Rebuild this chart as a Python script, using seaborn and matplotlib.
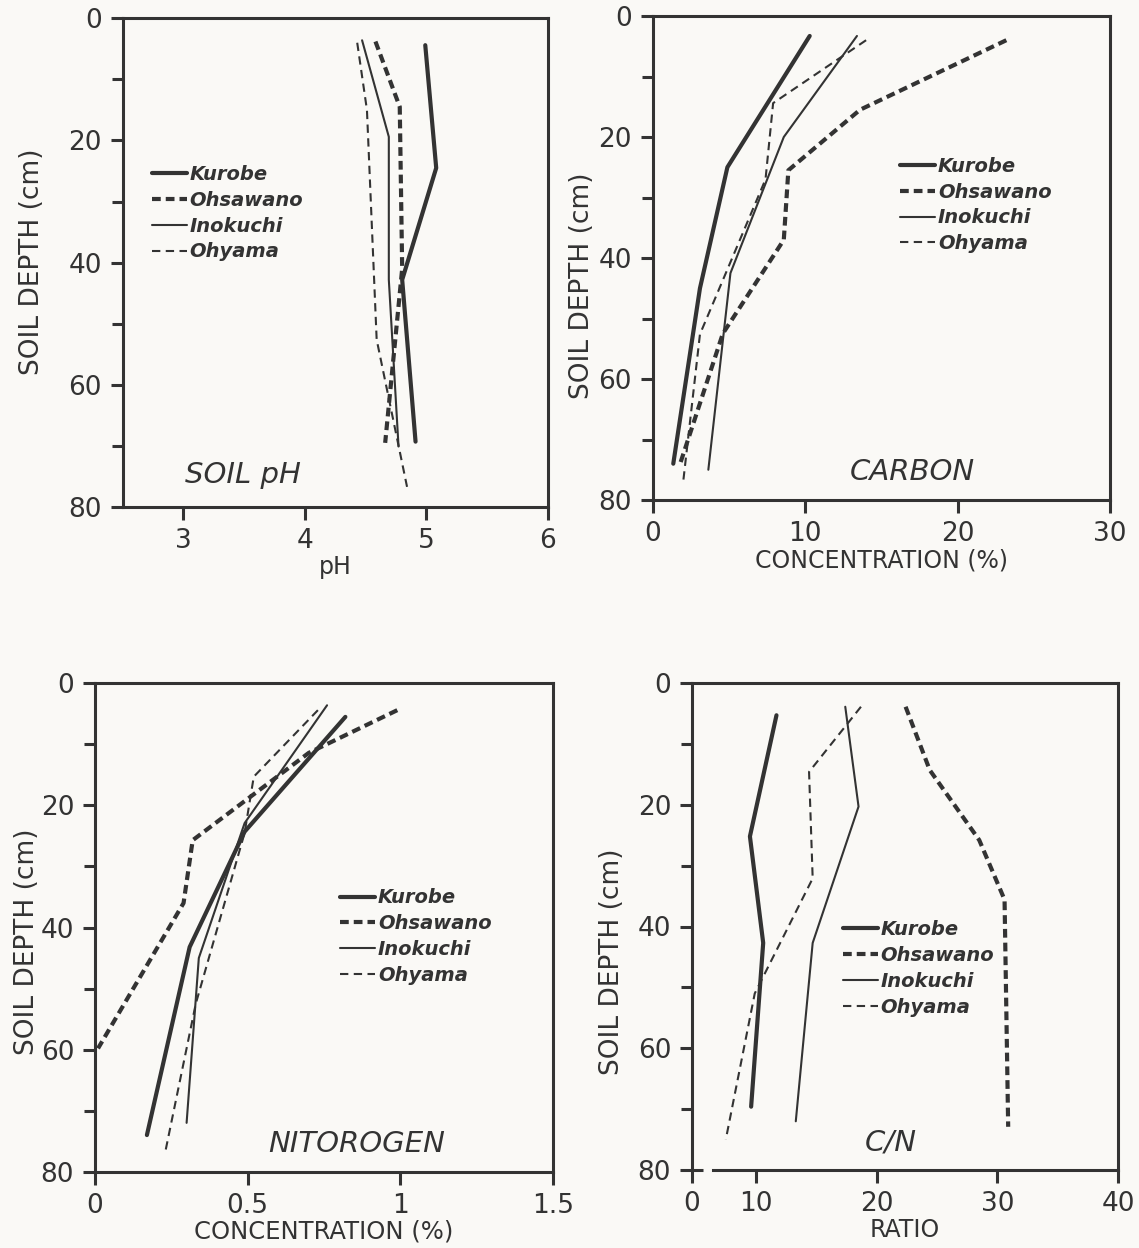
import numpy as np
import matplotlib
matplotlib.use("Agg")
import matplotlib.pyplot as plt
import seaborn as sns
from matplotlib.lines import Line2D

# ---------------- data ----------------
sites = ["Kurobe", "Ohsawano", "Inokuchi", "Ohyama"]

# SOIL pH
ph_kurobe_depth = [4.4, 24.5, 42.8, 69.3]
ph_kurobe = [4.99, 5.08, 4.80, 4.91]
ph_ohsawano_depth = [3.8, 14.5, 41.0, 69.5]
ph_ohsawano = [4.58, 4.78, 4.80, 4.66]
ph_inokuchi_depth = [3.6, 19.4, 42.8, 70.1]
ph_inokuchi = [4.47, 4.69, 4.69, 4.77]
ph_ohyama_depth = [4.0, 15.0, 52.6, 76.7]
ph_ohyama = [4.43, 4.51, 4.59, 4.84]

# CARBON (%)
c_kurobe_depth = [3.3, 25.0, 45.0, 74.0]
c_kurobe = [10.3, 4.9, 3.1, 1.35]
c_ohsawano_depth = [4.0, 15.5, 25.5, 37.0, 52.5, 74.0]
c_ohsawano = [23.2, 13.6, 8.9, 8.6, 4.6, 1.8]
c_inokuchi_depth = [3.3, 20.0, 42.5, 75.0]
c_inokuchi = [13.4, 8.6, 5.1, 3.65]
c_ohyama_depth = [4.0, 14.4, 27.0, 52.6, 77.0]
c_ohyama = [14.0, 7.9, 7.4, 3.1, 2.0]

# NITOROGEN (%)
n_kurobe_depth = [5.5, 24.3, 43.2, 74.0]
n_kurobe = [0.82, 0.49, 0.31, 0.17]
n_ohsawano_depth = [4.4, 11.4, 25.7, 36.0, 59.8]
n_ohsawano = [0.99, 0.70, 0.32, 0.29, 0.01]
n_inokuchi_depth = [3.6, 22.9, 45.0, 72.0]
n_inokuchi = [0.76, 0.49, 0.34, 0.30]
n_ohyama_depth = [4.4, 15.3, 24.5, 52.5, 76.8]
n_ohyama = [0.73, 0.52, 0.49, 0.33, 0.23]

# C/N ratio
cn_kurobe_depth = [5.3, 25.2, 42.7, 69.6]
cn_kurobe = [11.7, 9.5, 10.6, 9.6]
cn_ohsawano_depth = [3.9, 14.3, 25.8, 35.6, 72.9]
cn_ohsawano = [22.4, 24.4, 28.5, 30.6, 30.9]
cn_inokuchi_depth = [3.9, 20.3, 42.7, 72.0]
cn_inokuchi = [17.4, 18.5, 14.7, 13.3]
cn_ohyama_depth = [3.9, 14.6, 32.1, 51.0, 75.0]
cn_ohyama = [18.7, 14.4, 14.7, 9.9, 7.5]

depth_ticks = [0, 20, 40, 60, 80]
ph_ticks = [3, 4, 5, 6]
c_ticks = [0, 10, 20, 30]
n_ticks = [0, 0.5, 1, 1.5]
n_ticklabels = ["0", "0.5", "1", "1.5"]
cn_ticks = [0, 10, 20, 30, 40]

# ---------------- style ----------------
sns.set_theme(style="ticks")
plt.rcParams["font.family"] = ["DejaVu Sans"]
INK = "#333333"
BG = "#faf9f6"
plt.rcParams.update({
    "axes.edgecolor": INK, "xtick.color": INK, "ytick.color": INK,
    "text.color": INK, "axes.labelcolor": INK,
})

styles = {
    "Kurobe":   dict(lw=3.0, ls="-"),
    "Ohsawano": dict(lw=3.0, ls=(0, (2.1, 1.2))),
    "Inokuchi": dict(lw=1.5, ls="-"),
    "Ohyama":   dict(lw=1.5, ls=(0, (4.0, 2.6))),
}

W, H = 1139, 1248
fig = plt.figure(figsize=(W / 100, H / 100), dpi=100, facecolor=BG)


def add_ax(l, r, t, b):
    return fig.add_axes([l / W, 1 - b / H, (r - l) / W, (b - t) / H])


ax1 = add_ax(122.7, 548, 18.3, 507)
ax2 = add_ax(652.7, 1110, 16, 500)
ax3 = add_ax(95, 553, 683.3, 1171.7)
ax4 = add_ax(692, 1118, 683, 1170)

panels = [
    (ax1, [(ph_kurobe, ph_kurobe_depth), (ph_ohsawano, ph_ohsawano_depth),
           (ph_inokuchi, ph_inokuchi_depth), (ph_ohyama, ph_ohyama_depth)]),
    (ax2, [(c_kurobe, c_kurobe_depth), (c_ohsawano, c_ohsawano_depth),
           (c_inokuchi, c_inokuchi_depth), (c_ohyama, c_ohyama_depth)]),
    (ax3, [(n_kurobe, n_kurobe_depth), (n_ohsawano, n_ohsawano_depth),
           (n_inokuchi, n_inokuchi_depth), (n_ohyama, n_ohyama_depth)]),
    (ax4, [(cn_kurobe, cn_kurobe_depth), (cn_ohsawano, cn_ohsawano_depth),
           (cn_inokuchi, cn_inokuchi_depth), (cn_ohyama, cn_ohyama_depth)]),
]

# broken-axis scale for the C/N panel (0..5 compressed)
def _fwd(x):
    x = np.asarray(x, dtype=float)
    return np.where(x >= 5, x, 4.7 + 0.06 * x)


def _inv(y):
    y = np.asarray(y, dtype=float)
    return np.where(y >= 5, y, (y - 4.7) / 0.06)


ax4.set_xscale("function", functions=(_fwd, _inv))

for ax, series in panels:
    ax.set_facecolor(BG)
    for site, (vals, depths) in zip(sites, series):
        st = styles[site]
        sns.lineplot(x=vals, y=depths, sort=False, estimator=None, ax=ax,
                     color=INK, linewidth=st["lw"], linestyle=st["ls"])
    ax.set_ylim(80, 0)
    ax.set_yticks(depth_ticks)
    ax.set_yticks([10, 30, 50, 70], minor=True)
    for s in ax.spines.values():
        s.set_visible(True)
        s.set_linewidth(2.2)
        s.set_color(INK)
    ax.tick_params(axis="both", which="major", direction="out", length=9,
                   width=2.2, labelsize=19, pad=6)
    ax.tick_params(axis="y", which="minor", direction="out", length=8,
                   width=2.2)
    ax.grid(False)

ax1.set_xlim(2.5, 6)
ax1.set_xticks(ph_ticks)
ax1.set_xlabel("pH", fontsize=17, labelpad=1)

ax2.set_xlim(0, 30)
ax2.set_xticks(c_ticks)
ax2.set_xlabel("CONCENTRATION (%)", fontsize=17, labelpad=1)

ax3.set_xlim(0, 1.5)
ax3.set_xticks(n_ticks)
ax3.set_xticklabels(n_ticklabels)
ax3.set_xlabel("CONCENTRATION (%)", fontsize=17.5, labelpad=1)

ax4.set_xlim(0, 40)
ax4.set_xticks(cn_ticks)
ax4.set_xticklabels([str(t) for t in cn_ticks])
ax4.set_xlabel("RATIO", fontsize=17, labelpad=1)
# axis break on the bottom spine of the C/N panel
ax4.spines["bottom"].set_bounds(6.4, 40)
ax4.plot([0, 5.6], [0, 0], color=INK, lw=2.2, transform=ax4.get_xaxis_transform(),
         clip_on=False, solid_capstyle="butt")

# y labels (sizes / positions as in the original)
ylab = {ax1: (19, -0.183, 0.502), ax2: (19, -0.126, 0.442),
        ax3: (19, -0.12, 0.47), ax4: (19, -0.157, 0.427)}
for ax, (fs, lx, ly) in ylab.items():
    ax.set_ylabel("SOIL DEPTH (cm)", fontsize=fs)
    ax.yaxis.set_label_coords(lx, ly)

# panel titles
title_kw = dict(fontsize=21, style="italic", va="baseline", ha="left")
ax1.text(0.146, 0.049, "SOIL pH", transform=ax1.transAxes, **title_kw)
ax2.text(0.431, 0.041, "CARBON", transform=ax2.transAxes, **title_kw)
ax3.text(0.378, 0.041, "NITOROGEN", transform=ax3.transAxes, **title_kw)
ax4.text(0.406, 0.041, "C/N", transform=ax4.transAxes, **title_kw)

# legends
handles = [Line2D([], [], color=INK, linewidth=styles[s]["lw"],
                  linestyle=styles[s]["ls"]) for s in sites]
leg_pos = {ax1: (0.068, 0.70), ax2: (0.541, 0.709), ax3: (0.535, 0.58),
           ax4: (0.354, 0.513)}
for ax, (lx, ly) in leg_pos.items():
    leg = ax.legend(handles, sites, loc="upper left", bbox_to_anchor=(lx, ly),
                    frameon=False, borderpad=0, borderaxespad=0,
                    handlelength=1.8, handletextpad=0.15, labelspacing=0.35,
                    prop=dict(size=14, style="italic", weight="bold"))
    for t in leg.get_texts():
        t.set_color(INK)

fig.savefig("out.png", dpi=100, facecolor=BG)
